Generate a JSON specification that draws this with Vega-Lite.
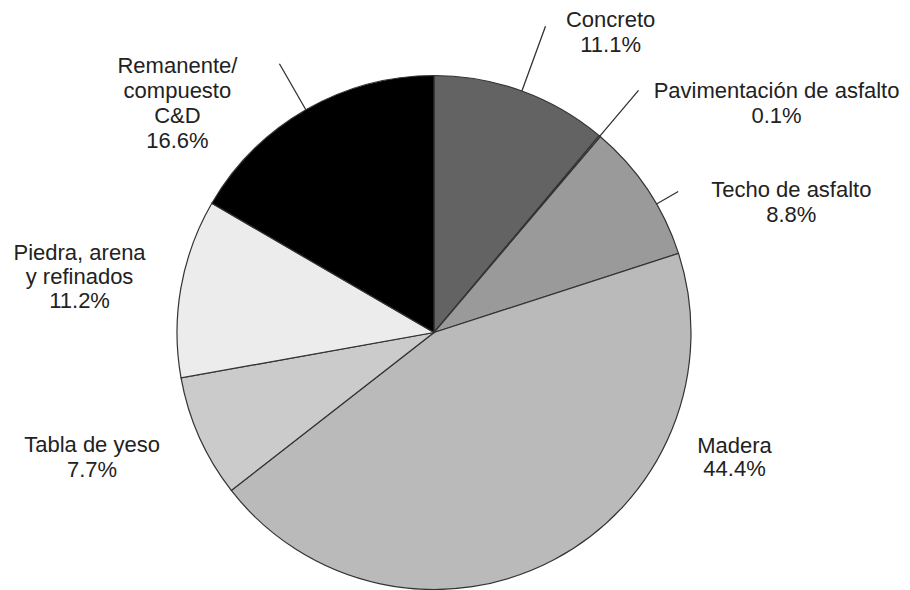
{
  "$schema": "https://vega.github.io/schema/vega-lite/v6.json",
  "width": 868,
  "height": 515,
  "autosize": {"type": "none"},
  "padding": {"left": 0, "top": 75, "right": 42, "bottom": 0},
  "background": "white",
  "config": {"view": {"stroke": null}},
  "data": {
    "values": [
      {"order": 1, "category": "Concreto", "pct": 11.1},
      {"order": 2, "category": "Pavimentación de asfalto", "pct": 0.1},
      {"order": 3, "category": "Techo de asfalto", "pct": 8.8},
      {"order": 4, "category": "Madera", "pct": 44.4},
      {"order": 5, "category": "Tabla de yeso", "pct": 7.7},
      {"order": 6, "category": "Piedra, arena\ny refinados", "pct": 11.2},
      {"order": 7, "category": "Remanente/\ncompuesto\nC&D", "pct": 16.6}
    ]
  },
  "transform": [
    {"joinaggregate": [{"op": "sum", "field": "pct", "as": "total"}]},
    {"window": [{"op": "sum", "field": "pct", "as": "cum"}], "sort": [{"field": "order", "order": "ascending"}], "frame": [null, 0]},
    {"calculate": "2 * PI * (datum.cum - datum.pct) / datum.total", "as": "a0"},
    {"calculate": "2 * PI * datum.cum / datum.total", "as": "a1"},
    {"calculate": "(datum.a0 + datum.a1) / 2", "as": "amid"},
    {"calculate": "datum.category + '\\n' + format(datum.pct, '.1f') + '%'", "as": "label"}
  ],
  "layer": [
    {
      "mark": {"type": "arc", "outerRadius": 257, "stroke": "#333333", "strokeWidth": 1.2},
      "encoding": {
        "theta": {"field": "a0", "type": "quantitative", "scale": null},
        "theta2": {"field": "a1"},
        "color": {
          "field": "category",
          "type": "nominal",
          "legend": null,
          "scale": {
            "domain": ["Concreto", "Pavimentación de asfalto", "Techo de asfalto", "Madera", "Tabla de yeso", "Piedra, arena\ny refinados", "Remanente/\ncompuesto\nC&D"],
            "range": ["#636363", "#7d7d7d", "#9a9a9a", "#bababa", "#cbcbcb", "#ececec", "#000000"]
          }
        }
      }
    },
    {
      "transform": [{"filter": "datum.order == 1"}],
      "mark": {"type": "arc", "innerRadius": 257, "outerRadius": 326, "stroke": "#333333", "strokeWidth": 1.3, "fill": null},
      "encoding": {"theta": {"field": "amid", "type": "quantitative", "scale": null}, "theta2": {"field": "amid"}}
    },
    {
      "transform": [{"filter": "datum.order == 2"}],
      "mark": {"type": "arc", "innerRadius": 257, "outerRadius": 317, "stroke": "#333333", "strokeWidth": 1.3, "fill": null},
      "encoding": {"theta": {"field": "amid", "type": "quantitative", "scale": null}, "theta2": {"field": "amid"}}
    },
    {
      "transform": [{"filter": "datum.order == 3"}],
      "mark": {"type": "arc", "innerRadius": 257, "outerRadius": 282, "thetaOffset": 0.066, "theta2Offset": 0.066, "stroke": "#333333", "strokeWidth": 1.3, "fill": null},
      "encoding": {"theta": {"field": "amid", "type": "quantitative", "scale": null}, "theta2": {"field": "amid"}}
    },
    {
      "transform": [{"filter": "datum.order == 7"}],
      "mark": {"type": "arc", "innerRadius": 257, "outerRadius": 310, "stroke": "#333333", "strokeWidth": 1.3, "fill": null},
      "encoding": {"theta": {"field": "amid", "type": "quantitative", "scale": null}, "theta2": {"field": "amid"}}
    },
    {
      "transform": [{"filter": "datum.order == 1"}],
      "mark": {"type": "text", "radius": 300, "dx": 74, "dy": -30.5, "align": "center", "baseline": "middle", "lineBreak": "\n", "font": "Liberation Sans", "fontSize": 22, "lineHeight": 25, "fill": "#222222"},
      "encoding": {"theta": {"field": "amid", "type": "quantitative", "scale": null}, "text": {"field": "label"}}
    },
    {
      "transform": [{"filter": "datum.order == 2"}],
      "mark": {"type": "text", "radius": 300, "dx": 149, "dy": -12.5, "align": "center", "baseline": "middle", "lineBreak": "\n", "font": "Liberation Sans", "fontSize": 22, "lineHeight": 25, "fill": "#222222"},
      "encoding": {"theta": {"field": "amid", "type": "quantitative", "scale": null}, "text": {"field": "label"}}
    },
    {
      "transform": [{"filter": "datum.order == 3"}],
      "mark": {"type": "text", "radius": 300, "dx": 108, "dy": 24.5, "align": "center", "baseline": "middle", "lineBreak": "\n", "font": "Liberation Sans", "fontSize": 22, "lineHeight": 25, "fill": "#222222"},
      "encoding": {"theta": {"field": "amid", "type": "quantitative", "scale": null}, "text": {"field": "label"}}
    },
    {
      "transform": [{"filter": "datum.order == 4"}],
      "mark": {"type": "text", "radius": 300, "dx": 160, "dy": -151.5, "align": "center", "baseline": "middle", "lineBreak": "\n", "font": "Liberation Sans", "fontSize": 22, "lineHeight": 23, "fill": "#222222"},
      "encoding": {"theta": {"field": "amid", "type": "quantitative", "scale": null}, "text": {"field": "label"}}
    },
    {
      "transform": [{"filter": "datum.order == 5"}],
      "mark": {"type": "text", "radius": 300, "dx": -68, "dy": -9.5, "align": "center", "baseline": "middle", "lineBreak": "\n", "font": "Liberation Sans", "fontSize": 22, "lineHeight": 25, "fill": "#222222"},
      "encoding": {"theta": {"field": "amid", "type": "quantitative", "scale": null}, "text": {"field": "label"}}
    },
    {
      "transform": [{"filter": "datum.order == 6"}],
      "mark": {"type": "text", "radius": 300, "dx": -59, "dy": -27, "align": "center", "baseline": "middle", "lineBreak": "\n", "font": "Liberation Sans", "fontSize": 22, "lineHeight": 24, "fill": "#222222"},
      "encoding": {"theta": {"field": "amid", "type": "quantitative", "scale": null}, "text": {"field": "label"}}
    },
    {
      "transform": [{"filter": "datum.order == 7"}],
      "mark": {"type": "text", "radius": 300, "dx": -107, "dy": -6.5, "align": "center", "baseline": "middle", "lineBreak": "\n", "font": "Liberation Sans", "fontSize": 22, "lineHeight": 25, "fill": "#222222"},
      "encoding": {"theta": {"field": "amid", "type": "quantitative", "scale": null}, "text": {"field": "label"}}
    }
  ]
}
